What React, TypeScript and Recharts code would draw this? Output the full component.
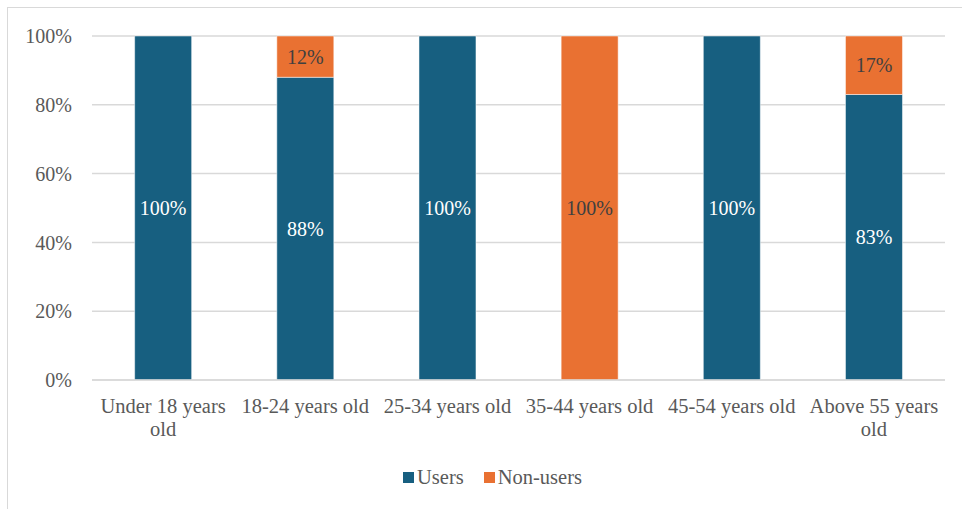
import { BarChart, Bar, XAxis, YAxis, CartesianGrid, Legend, LabelList } from 'recharts'

const ageGroups = [
  'Under 18 years old',
  '18-24 years old',
  '25-34 years old',
  '35-44 years old',
  '45-54 years old',
  'Above 55 years old',
]
const users = [100, 88, 100, 0, 100, 83]
const nonUsers = [0, 12, 0, 100, 0, 17]
const percentTicks = [0, 20, 40, 60, 80, 100]

const BLUE = '#175f80'
const ORANGE = '#e97132'
const FONT = 'Liberation Serif'

const data = ageGroups.map((name, i) => ({ name, users: users[i], nonUsers: nonUsers[i] }))

const pct = (v: any) => (v ? `${v}%` : '')

// greedy word wrap measured on a canvas with the axis font
const measureCtx = document.createElement('canvas').getContext('2d')!
function wrapWords(text: string, maxWidth: number) {
  measureCtx.font = `20.5px "${FONT}"`
  const lines: string[] = []
  let cur = ''
  for (const w of text.split(' ')) {
    const next = cur ? `${cur} ${w}` : w
    if (cur && measureCtx.measureText(next).width > maxWidth) {
      lines.push(cur)
      cur = w
    } else {
      cur = next
    }
  }
  if (cur) lines.push(cur)
  return lines
}

function AgeTick(props: any) {
  const { x, y, payload } = props
  const lines = wrapWords(payload.value, 140)
  return (
    <text x={x} y={y} textAnchor="middle" fill="#595959" fontSize={20.5} fontFamily={FONT}>
      {lines.map((line, i) => (
        <tspan key={i} x={x} dy={i === 0 ? 21 : 23}>
          {line}
        </tspan>
      ))}
    </text>
  )
}

function LegendRow() {
  const items = [
    { label: 'Users', color: BLUE },
    { label: 'Non-users', color: ORANGE },
  ]
  return (
    <div style={{ display: 'flex', alignItems: 'center', fontFamily: FONT, fontSize: 20.5, color: '#595959' }}>
      {items.map((it) => (
        <div key={it.label} style={{ display: 'flex', alignItems: 'center', marginRight: 20 }}>
          <span style={{ width: 11, height: 11, background: it.color, marginRight: 3, display: 'inline-block' }} />
          <span>{it.label}</span>
        </div>
      ))}
    </div>
  )
}

export default function App() {
  return (
    <div style={{ position: 'absolute', left: 0, top: 0, width: 962, height: 509, background: '#fff', fontFamily: FONT }}>
      <div
        style={{
          position: 'absolute',
          left: 7,
          top: 7,
          width: 955,
          height: 502,
          borderTop: '1px solid #d9d9d9',
          borderLeft: '1px solid #d9d9d9',
          boxSizing: 'border-box',
        }}
      />
      <BarChart
        width={962}
        height={509}
        data={data}
        margin={{ top: 36, right: 17, bottom: 46, left: 0 }}
        barCategoryGap="30%"
        style={{ position: 'absolute', left: 0, top: 0, fontFamily: FONT }}
      >
        <CartesianGrid vertical={false} stroke="#d9d9d9" strokeWidth={1.5} />
        <XAxis
          dataKey="name"
          axisLine={{ stroke: '#d9d9d9', strokeWidth: 1.5 }}
          tickLine={false}
          tick={<AgeTick />}
          interval={0}
          height={60}
          tickSize={0}
          tickMargin={12}
        />
        <YAxis
          domain={[0, 100]}
          ticks={percentTicks}
          tickFormatter={(v) => `${v}%`}
          axisLine={false}
          tickLine={false}
          tickSize={0}
          tickMargin={20}
          width={92}
          tick={{ fill: '#595959', fontSize: 20, fontFamily: FONT }}
        />
        <Legend
          content={<LegendRow />}
          wrapperStyle={{ position: 'absolute', left: 403, top: 466, width: 'auto' }}
        />
        <Bar dataKey="users" name="Users" stackId="a" fill={BLUE} stroke="#ffffff" strokeWidth={0.5} isAnimationActive={false}>
          <LabelList dataKey="users" position="center" formatter={pct} fill="#ffffff" fontSize={20} fontFamily={FONT} />
        </Bar>
        <Bar dataKey="nonUsers" name="Non-users" stackId="a" fill={ORANGE} stroke="#ffffff" strokeWidth={0.5} isAnimationActive={false}>
          <LabelList dataKey="nonUsers" position="center" formatter={pct} fill="#404040" fontSize={20} fontFamily={FONT} />
        </Bar>
      </BarChart>
    </div>
  )
}
